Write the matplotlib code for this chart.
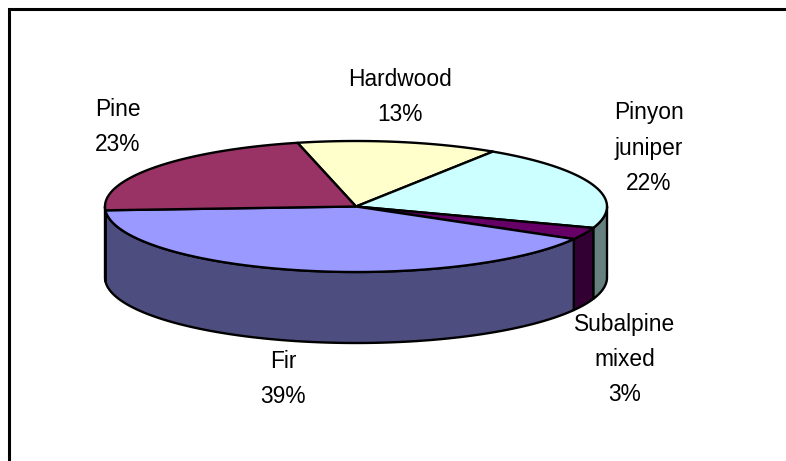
import matplotlib
matplotlib.use("Agg")
import matplotlib.pyplot as plt
import numpy as np

plt.rcParams["font.family"] = ["Liberation Sans", "DejaVu Sans"]

# clockwise from the hardwood slice
NAMES   = ['Hardwood', 'Pinyon\njuniper', 'Subalpine\nmixed', 'Fir', 'Pine']
PERCENT = [13, 22, 3, 39, 23]
COLORS  = ['#FFFFCC', '#CCFFFF', '#660066', '#9999FF', '#993366']
SIDES   = ['#808066', '#668080', '#330033', '#4D4D80', '#4D1A33']
LABEL_XY = [(399.5, 97), (649, 148), (625, 359.5), (283, 379), (118, 127)]

START = 346.5  # degrees clockwise from top
CX, CY = 356.0, 206.5
RX, RY = 251.0, 65.5
DEPTH = 71.0
LW = 1.7
PERSP = 2.7  # front slices look a bit wider in the 3d view


def persp(t):
    r = np.radians(t)
    return t - PERSP * (1 - np.cos(r)) * np.sin(r)


def rim(t1, t2):
    t = np.radians(np.linspace(t1, t2, max(int(abs(t2 - t1) * 2), 2)))
    return CX + RX * np.sin(t), CY - RY * np.cos(t)


fig = plt.figure(figsize=(7.86, 4.61), dpi=100)
ax = fig.add_axes([0, 0, 1, 1])
ax.set_xlim(0, 786)
ax.set_ylim(461, 0)
ax.axis('off')

# only the top and left of the chart frame are in the crop
ax.plot([9, 9, 786], [461, 9, 9], color='black', lw=2.2, solid_joinstyle='miter')

edges = persp(START + np.cumsum([0] + PERCENT) * 3.6)

# sides first, only the part of each rim facing the viewer
for i in range(len(PERCENT)):
    for shift in (0, -360):
        a = max(edges[i] + shift, 90)
        b = min(edges[i + 1] + shift, 270)
        if b <= a:
            continue
        x, y = rim(a, b)
        ax.fill(np.r_[x, x[::-1]], np.r_[y, y[::-1] + DEPTH],
                facecolor=SIDES[i], edgecolor='black', lw=LW, joinstyle='round')

for i in range(len(PERCENT)):
    x, y = rim(edges[i], edges[i + 1])
    ax.fill(np.r_[CX, x], np.r_[CY, y],
            facecolor=COLORS[i], edgecolor='black', lw=LW, joinstyle='round')

for name, pct, (lx, ly) in zip(NAMES, PERCENT, LABEL_XY):
    ax.text(lx, ly, f"{name}\n{pct}%", ha='center', va='center',
            fontsize=16.4, color='black', linespacing=1.68)

fig.savefig("out.png", dpi=100)
